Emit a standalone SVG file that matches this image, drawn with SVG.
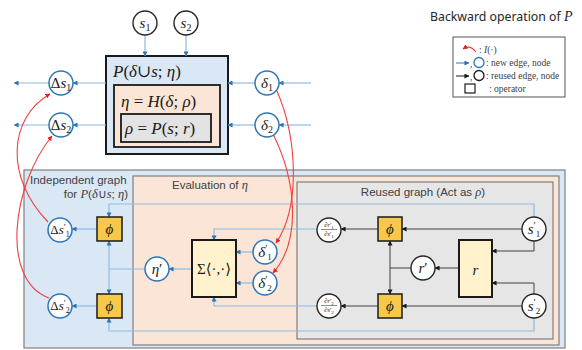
<svg xmlns="http://www.w3.org/2000/svg" width="582" height="350" viewBox="0 0 582 350">
  <defs>
    <marker id="ab" viewBox="0 0 6 6" refX="5.5" refY="3" markerWidth="5" markerHeight="5" orient="auto-start-reverse" markerUnits="userSpaceOnUse">
      <path d="M0,0 L6,3 L0,6 z" fill="#2e75b6"/>
    </marker>
    <marker id="ak" viewBox="0 0 6 6" refX="5.5" refY="3" markerWidth="5" markerHeight="5" orient="auto-start-reverse" markerUnits="userSpaceOnUse">
      <path d="M0,0 L6,3 L0,6 z" fill="#1a1a1a"/>
    </marker>
    <marker id="ar" viewBox="0 0 6 6" refX="5.5" refY="3" markerWidth="5" markerHeight="5" orient="auto" markerUnits="userSpaceOnUse">
      <path d="M0,0 L6,3 L0,6 z" fill="#ee2020"/>
    </marker>
  </defs>
  <style>
    .nb { fill: #ffffff; stroke: #2e75b6; stroke-width: 1.5; }
    .nk { fill: #ffffff; stroke: #262626; stroke-width: 1.4; }
    .eb { fill: none; stroke: #8dbbe2; stroke-width: 1.2; marker-end: url(#ab); }
    .ek { fill: none; stroke: #404040; stroke-width: 1; marker-end: url(#ak); }
    .er { fill: none; stroke: #f04040; stroke-width: 1.1; marker-end: url(#ar); }
    .both-b { marker-start: url(#ab); }
    .both-k { marker-start: url(#ak); }
    .plain-b { fill: none; stroke: #8dbbe2; stroke-width: 1.2; }
    .plain-k { fill: none; stroke: #404040; stroke-width: 1; }
    .op { fill: #f7c84a; stroke: #1a1a1a; stroke-width: 1.5; }
    .sum { fill: #fff2cc; stroke: #1a1a1a; stroke-width: 2; }
    .m { font-family: "Liberation Serif", "DejaVu Serif", serif; font-size: 15px; text-anchor: middle; fill: #1a1a1a; }
    .mp { font-family: "Liberation Serif", "DejaVu Serif", serif; font-size: 13px; text-anchor: middle; fill: #1a1a1a; }
    .big { font-family: "Liberation Serif", "DejaVu Serif", serif; font-size: 17px; fill: #1a1a1a; }
    .i { font-style: italic; }
    .lbl { font-family: "Liberation Sans", Arial, sans-serif; font-size: 11.5px; fill: #404040; }
    .mi { font-family: "Liberation Serif", serif; font-style: italic; font-size: 12.5px; }
    .leg { font-family: "Liberation Serif", "DejaVu Serif", serif; font-size: 9.5px; fill: #404040; }
    .pd { font-family: "Liberation Serif", "DejaVu Serif", serif; font-size: 6.5px; text-anchor: middle; fill: #1a1a1a; }
  </style>

  <rect width="582" height="350" fill="#ffffff"/>

  <!-- title and legend -->
  <text x="430" y="21" font-family="'Noto Sans', 'Open Sans', sans-serif" font-size="12.3" fill="#262626">Backward operation of <tspan font-family="'Liberation Serif', serif" font-style="italic" font-size="14">P</tspan></text>
  <g id="legend">
    <rect x="453" y="37" width="112" height="60" fill="#ffffff" stroke="#555555" stroke-width="1"/>
    <path d="M476,52 Q470,44 463,49" class="er"/>
    <text class="leg" x="479" y="53">: <tspan class="i">I</tspan>(·)</text>
    <path d="M456,63 H469" fill="none" stroke="#2e75b6" stroke-width="1" marker-end="url(#ab)"/>
    <text class="leg" x="470" y="67">,</text>
    <circle cx="479" cy="62.5" r="5" fill="none" stroke="#2e75b6" stroke-width="1.3"/>
    <text class="leg" x="486" y="65.5">: new edge, node</text>
    <path d="M456,76 H469" fill="none" stroke="#1a1a1a" stroke-width="1" marker-end="url(#ak)"/>
    <text class="leg" x="470" y="80">,</text>
    <circle cx="479" cy="75.5" r="5" fill="none" stroke="#1a1a1a" stroke-width="1.3"/>
    <text class="leg" x="486" y="78.5">: reused edge, node</text>
    <rect x="465" y="84" width="10" height="9" fill="none" stroke="#1a1a1a" stroke-width="1.2"/>
    <text class="leg" x="489" y="91.5">: operator</text>
  </g>

  <!-- forward block P with nested H and P -->
  <g id="P-block">
    <rect x="106" y="56" width="122" height="98" fill="#dae8f5" stroke="#1a1a1a" stroke-width="2"/>
    <text class="big" x="113" y="77"><tspan class="i">P</tspan>(<tspan class="i">δ</tspan>∪<tspan class="i">s</tspan>; <tspan class="i">η</tspan>)</text>
    <rect x="114" y="85" width="106" height="62" fill="#fbe5d6" stroke="#1a1a1a" stroke-width="1.8"/>
    <text class="big" x="121" y="107"><tspan class="i">η</tspan> = <tspan class="i">H</tspan>(<tspan class="i">δ</tspan>; <tspan class="i">ρ</tspan>)</text>
    <rect x="121" y="114" width="90" height="28" fill="#e3e3e3" stroke="#1a1a1a" stroke-width="1.8"/>
    <text class="big" x="125" y="134"><tspan class="i">ρ</tspan> = <tspan class="i">P</tspan>(<tspan class="i">s</tspan>; <tspan class="i">r</tspan>)</text>
  </g>

  <!-- nested backward regions -->
  <g id="independent-graph">
    <rect x="24" y="170" width="541" height="178" fill="#dae8f5" stroke="#7f7f7f" stroke-width="1.2"/>
    <text class="lbl" x="30" y="184">Independent graph</text>
    <text class="lbl" x="128" y="198" text-anchor="end">for <tspan class="mi">P</tspan>(<tspan class="mi">δ</tspan>∪<tspan class="mi">s</tspan>; <tspan class="mi">η</tspan>)</text>
  </g>
  <g id="evaluation">
    <rect x="133" y="176" width="426" height="169" fill="#fbe5d6" stroke="#7f7f7f" stroke-width="1.2"/>
    <text class="lbl" x="210" y="189" text-anchor="middle">Evaluation of <tspan class="mi">η</tspan></text>
  </g>
  <g id="reused-graph">
    <rect x="297" y="182" width="256" height="157" fill="#e6e6e6" stroke="#7f7f7f" stroke-width="1.2"/>
    <text class="lbl" x="423" y="196" text-anchor="middle">Reused graph (Act as <tspan class="mi">ρ</tspan>)</text>
  </g>

  <!-- connectors -->
  <g id="connectors">
    <!-- forward block I/O -->
    <path class="eb" d="M145,35 V56"/>
    <path class="eb" d="M186,35 V56"/>
    <path class="eb" d="M106,83 H73"/>
    <path class="eb" d="M49,83 H14"/>
    <path class="eb" d="M106,125 H73"/>
    <path class="eb" d="M49,125 H14"/>
    <path class="eb" d="M311,83 H279"/>
    <path class="eb" d="M255,83 H228"/>
    <path class="eb" d="M311,125 H279"/>
    <path class="eb" d="M255,125 H228"/>

    <!-- new edges in backward graph -->
    <path class="eb" d="M534,217 V204 H109 V217"/>
    <path class="eb" d="M534,318 V331 H109 V318"/>
    <path class="eb" d="M317,229 H214 V240"/>
    <path class="eb" d="M317,306 H214 V297"/>
    <path class="eb" d="M253,252 H236"/>
    <path class="eb" d="M253,283 H236"/>
    <path class="eb" d="M192,269 H169"/>
    <path class="plain-b" d="M145,269 H109"/>
    <path class="eb both-b" d="M109,241 V294"/>
    <path class="eb" d="M97,229 H72"/>
    <path class="eb" d="M97,306 H72"/>

    <!-- reused edges -->
    <path class="ek" d="M522,229 H402"/>
    <path class="ek" d="M522,306 H402"/>
    <path class="ek" d="M378,229 H341"/>
    <path class="ek" d="M378,306 H341"/>
    <path class="ek" d="M534,241 V251 H492"/>
    <path class="ek" d="M534,294 V283 H492"/>
    <path class="ek" d="M459,268 H435"/>
    <path class="plain-k" d="M411,268 H390"/>
    <path class="ek both-k" d="M390,241 V294"/>

    <!-- I(.) links -->
    <path class="er" d="M48,222 C5,178 8,118 50,94"/>
    <path class="er" d="M49,298 C0,280 12,185 52,136"/>
    <path class="er" d="M277,91 C298,140 300,208 276,243"/>
    <path class="er" d="M273,134 C296,180 302,240 273,273"/>
  </g>

  <!-- top-level nodes -->
  <g id="s1"><circle class="nk" cx="145" cy="23" r="12"/><text class="m" x="145" y="28"><tspan class="i">s</tspan><tspan font-size="10" dy="3">1</tspan></text></g>
  <g id="s2"><circle class="nk" cx="186" cy="23" r="12"/><text class="m" x="186" y="28"><tspan class="i">s</tspan><tspan font-size="10" dy="3">2</tspan></text></g>
  <g id="ds1"><circle class="nb" cx="61" cy="83" r="12"/><text class="m" x="61" y="88">Δ<tspan class="i">s</tspan><tspan font-size="10" dy="3">1</tspan></text></g>
  <g id="ds2"><circle class="nb" cx="61" cy="125" r="12"/><text class="m" x="61" y="130">Δ<tspan class="i">s</tspan><tspan font-size="10" dy="3">2</tspan></text></g>
  <g id="d1"><circle class="nb" cx="267" cy="83" r="12"/><text class="m" x="267" y="88"><tspan class="i">δ</tspan><tspan font-size="10" dy="3">1</tspan></text></g>
  <g id="d2"><circle class="nb" cx="267" cy="125" r="12"/><text class="m" x="267" y="130"><tspan class="i">δ</tspan><tspan font-size="10" dy="3">2</tspan></text></g>

  <!-- independent graph nodes -->
  <g id="dsp1"><circle class="nb" cx="60" cy="230" r="12"/><text class="mp" x="60" y="234">Δ<tspan class="i">s</tspan><tspan font-size="9" dy="-4">′</tspan><tspan font-size="8" dy="7">1</tspan></text></g>
  <g id="dsp2"><circle class="nb" cx="60" cy="306" r="12"/><text class="mp" x="60" y="310">Δ<tspan class="i">s</tspan><tspan font-size="9" dy="-4">′</tspan><tspan font-size="8" dy="7">2</tspan></text></g>
  <g id="phi1"><rect class="op" x="97" y="217" width="25" height="24"/><text class="m" x="109.5" y="234" font-size="16"><tspan class="i">ϕ</tspan></text></g>
  <g id="phi2"><rect class="op" x="97" y="294" width="25" height="24"/><text class="m" x="109.5" y="311" font-size="16"><tspan class="i">ϕ</tspan></text></g>

  <!-- evaluation nodes -->
  <g id="etap"><circle class="nb" cx="157" cy="269" r="12"/><text class="m" x="157" y="274"><tspan class="i">η</tspan>′</text></g>
  <g id="sum"><rect class="sum" x="192" y="240" width="44" height="57"/><text class="m" x="214" y="274" font-size="16">Σ⟨·,·⟩</text></g>
  <g id="dp1"><circle class="nb" cx="265" cy="252" r="12"/><text class="m" x="265" y="257"><tspan class="i">δ</tspan><tspan font-size="10" dy="-5">′</tspan><tspan font-size="9" dy="8">1</tspan></text></g>
  <g id="dp2"><circle class="nb" cx="265" cy="283" r="12"/><text class="m" x="265" y="288"><tspan class="i">δ</tspan><tspan font-size="10" dy="-5">′</tspan><tspan font-size="9" dy="8">2</tspan></text></g>

  <!-- reused graph nodes -->
  <g id="grad1"><circle class="nk" cx="329" cy="230" r="12"/>
    <text class="pd" x="329" y="227">∂<tspan class="i">r</tspan>′<tspan font-size="5" dy="1.5">1</tspan></text>
    <line x1="321" y1="229.5" x2="337" y2="229.5" stroke="#1a1a1a" stroke-width="0.5"/>
    <text class="pd" x="329" y="236">∂<tspan class="i">s</tspan>′<tspan font-size="5" dy="1.5">1</tspan></text></g>
  <g id="grad2"><circle class="nk" cx="329" cy="306" r="12"/>
    <text class="pd" x="329" y="303">∂<tspan class="i">r</tspan>′<tspan font-size="5" dy="1.5">2</tspan></text>
    <line x1="321" y1="305.5" x2="337" y2="305.5" stroke="#1a1a1a" stroke-width="0.5"/>
    <text class="pd" x="329" y="312">∂<tspan class="i">s</tspan>′<tspan font-size="5" dy="1.5">2</tspan></text></g>
  <g id="phi3"><rect class="op" x="378" y="217" width="24" height="24"/><text class="m" x="390" y="234" font-size="16"><tspan class="i">ϕ</tspan></text></g>
  <g id="phi4"><rect class="op" x="378" y="294" width="24" height="24"/><text class="m" x="390" y="311" font-size="16"><tspan class="i">ϕ</tspan></text></g>
  <g id="rp"><circle class="nk" cx="423" cy="268" r="12"/><text class="m" x="423" y="273"><tspan class="i">r</tspan>′</text></g>
  <g id="r"><rect class="sum" x="459" y="240" width="33" height="57"/><text class="m" x="475.5" y="275" font-size="22"><tspan class="i">r</tspan></text></g>
  <g id="sp1"><circle class="nk" cx="534" cy="229" r="12"/><text class="m" x="534" y="234"><tspan class="i">s</tspan><tspan font-size="10" dy="-5">′</tspan><tspan font-size="9" dy="8">1</tspan></text></g>
  <g id="sp2"><circle class="nk" cx="534" cy="306" r="12"/><text class="m" x="534" y="311"><tspan class="i">s</tspan><tspan font-size="10" dy="-5">′</tspan><tspan font-size="9" dy="8">2</tspan></text></g>
</svg>
